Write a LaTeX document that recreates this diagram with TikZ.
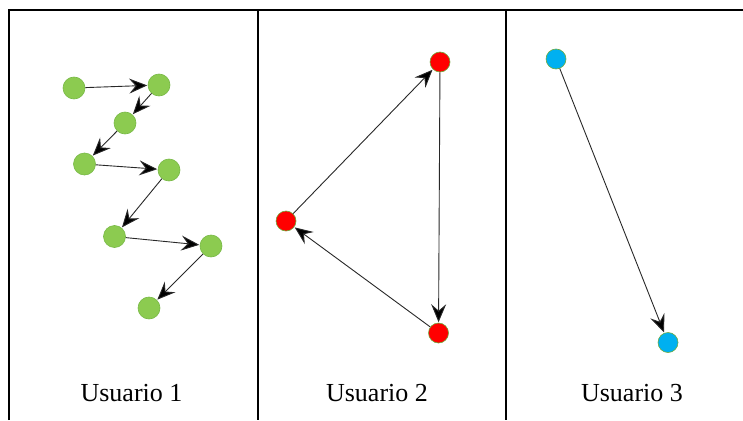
\documentclass[tikz,border=0pt]{standalone}
\usepackage{fontspec}
\setmainfont{Liberation Serif}
\usetikzlibrary{arrows.meta}

\definecolor{leaf}{RGB}{140,203,80}
\definecolor{leafline}{RGB}{120,185,70}
\definecolor{redfill}{RGB}{255,0,0}
\definecolor{skyfill}{RGB}{0,176,240}
\definecolor{rimgreen}{RGB}{110,170,60}
\definecolor{edgegray}{RGB}{40,40,40}

\tikzset{
  frame/.style={line width=2pt, black},
  greendot/.style={circle, minimum size=22pt, inner sep=0pt, fill=leaf, draw=leafline, line width=0.6pt},
  reddot/.style={circle, minimum size=20pt, inner sep=0pt, fill=redfill, draw=rimgreen, line width=0.6pt},
  bluedot/.style={circle, minimum size=20pt, inner sep=0pt, fill=skyfill, draw=rimgreen, line width=0.6pt},
  headtip/.tip={Stealth[length=18pt, width=15pt, inset=6.5pt, fill=black]},
  link/.style={draw=edgegray, line width=0.9pt, -headtip, shorten >=0.5pt},
  caption/.style={anchor=base, inner sep=0pt, font=\fontsize{26}{30}\selectfont}
}

\begin{document}
\begin{tikzpicture}[x=1pt, y=-1pt]
  \useasboundingbox (0,0) rectangle (743,420);

  % panel frame: outer left and top edges plus two dividers
  \coordinate (tl) at (9,10);
  \coordinate (tr) at (743,10);
  \coordinate (bl) at (9,420);
  \coordinate (d1t) at (257.5,10);
  \coordinate (d1b) at (257.5,420);
  \coordinate (d2t) at (505.5,10);
  \coordinate (d2b) at (505.5,420);
  \draw[frame] (bl) -- (tl) -- (tr);
  \draw[frame] (d1t) -- (d1b);
  \draw[frame] (d2t) -- (d2b);

  % user 1 path
  \node[greendot] (g1) at (74,88) {};
  \node[greendot] (g2) at (159,85) {};
  \node[greendot] (g3) at (125,123) {};
  \node[greendot] (g4) at (84.5,164) {};
  \node[greendot] (g5) at (169,170) {};
  \node[greendot] (g6) at (114.5,236.5) {};
  \node[greendot] (g7) at (211,246) {};
  \node[greendot] (g8) at (149,308) {};
  \draw[link] (g1) -- (g2);
  \draw[link] (g2) -- (g3);
  \draw[link] (g3) -- (g4);
  \draw[link] (g4) -- (g5);
  \draw[link] (g5) -- (g6);
  \draw[link] (g6) -- (g7);
  \draw[link] (g7) -- (g8);

  % user 2 cycle
  \node[reddot] (r1) at (440,62) {};
  \node[reddot] (r2) at (286,221) {};
  \node[reddot] (r3) at (438.5,333) {};
  \draw[link] (r2) -- (r1);
  \draw[link] (r1) -- (r3);
  \draw[link] (r3) -- (r2);

  % user 3 single move
  \node[bluedot] (b1) at (556,59) {};
  \node[bluedot] (b2) at (668,342.5) {};
  \draw[link] (b1) -- (b2);

  % captions
  \node[caption] (c1) at (131.5,401) {Usuario 1};
  \node[caption] (c2) at (377,401) {Usuario 2};
  \node[caption] (c3) at (632,401) {Usuario 3};
\end{tikzpicture}
\end{document}
